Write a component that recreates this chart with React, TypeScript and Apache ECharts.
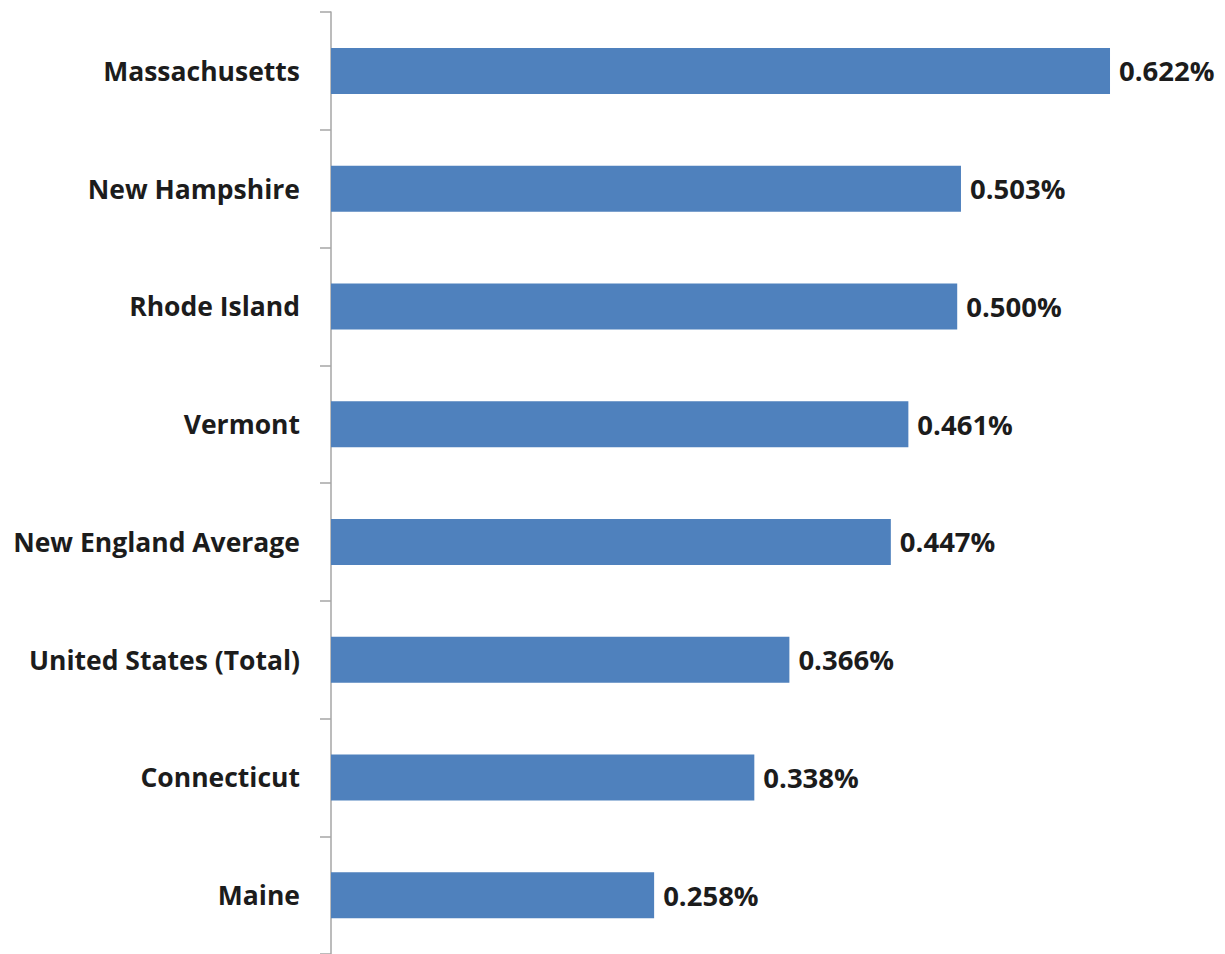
import React, { useEffect, useRef } from "react";
import * as echarts from "echarts";

const categories = [
  "Massachusetts",
  "New Hampshire",
  "Rhode Island",
  "Vermont",
  "New England Average",
  "United States (Total)",
  "Connecticut",
  "Maine",
];
const values = [0.622, 0.503, 0.5, 0.461, 0.447, 0.366, 0.338, 0.258];

export default function App() {
  const ref = useRef<HTMLDivElement>(null);
  useEffect(() => {
    if (!ref.current) return;
    const chart = echarts.init(ref.current, null, { renderer: "svg" });
    const font = "'Open Sans', 'Noto Sans', sans-serif";
    chart.setOption({
      animation: false,
      backgroundColor: "#ffffff",
      grid: { left: 331, top: 12, width: 876.7, height: 944 },
      xAxis: {
        type: "value",
        min: 0,
        max: 0.7,
        show: false,
      },
      yAxis: {
        type: "category",
        data: categories,
        inverse: true,
        axisLine: { show: true, lineStyle: { color: "#a6a6a6", width: 1.5 } },
        axisTick: { show: true, length: 11, interval: 0, lineStyle: { color: "#a6a6a6", width: 1.5 } },
        axisLabel: {
          margin: 31,
          color: "#1c1c1c",
          fontFamily: font,
          fontWeight: "bold",
          fontSize: 26.5,
        },
        splitLine: { show: false },
      },
      series: [
        {
          type: "bar",
          data: values,
          barWidth: 46,
          itemStyle: { color: "#4f81bd" },
          label: {
            show: true,
            position: "right",
            distance: 9,
            color: "#1c1c1c",
            fontFamily: font,
            fontWeight: "bold",
            fontSize: 27.5,
            formatter: (p: any) => p.value.toFixed(3) + "%",
          },
        },
      ],
    });
    return () => chart.dispose();
  }, []);
  return (
    <div
      ref={ref}
      style={{ position: "fixed", left: 0, top: 0, width: 1225, height: 954 }}
    />
  );
}
